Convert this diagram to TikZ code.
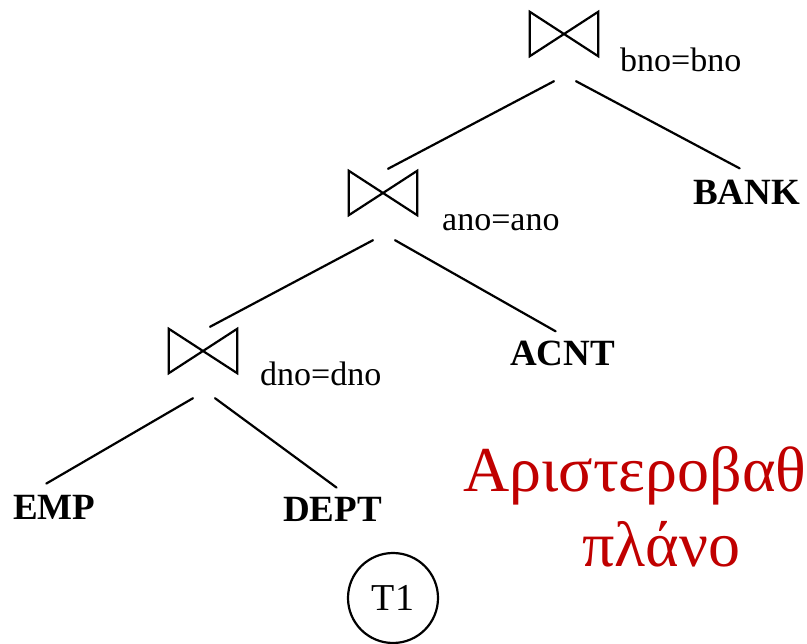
\documentclass[tikz,border=0pt]{standalone}
\usepackage{fontspec}
\setmainfont{Liberation Serif}
\usetikzlibrary{calc}
\definecolor{plannote}{RGB}{192,0,0}

\begin{document}
\begin{tikzpicture}[x=1pt,y=-1pt,
  joinop/.style={minimum width=68pt,minimum height=44pt,inner sep=0pt},
  bowtie/.style={line width=2.2pt,line join=miter},
  edge/.style={line width=2.2pt,line cap=round},
  cond/.style={anchor=base west,inner sep=0pt,font=\fontsize{34}{34}\selectfont},
  rel/.style={anchor=base west,inner sep=0pt,font=\fontsize{37}{37}\selectfont\bfseries},
  note/.style={anchor=base west,inner sep=0pt,text=plannote,font=\fontsize{64}{64}\selectfont}]
  \useasboundingbox (0,0) rectangle (807,644);

  % join operators
  \node[joinop] (j1) at (564,34) {};
  \node[joinop] (j2) at (383,193) {};
  \node[joinop] (j3) at (203,351) {};
  \foreach \j in {j1,j2,j3}{
    \draw[bowtie] (\j.north west) -- (\j.south east) -- (\j.north east)
                  -- (\j.south west) -- cycle;
    \coordinate (\j-l) at ($(\j.south)+(-10,25)$);
    \coordinate (\j-r) at ($(\j.south)+(12,25)$);
  }

  % join conditions
  \node[cond] (c1) at (620,72) {bno=bno};
  \node[cond] (c2) at (442,231) {ano=ano};
  \node[cond] (c3) at (260,386) {dno=dno};

  % base relations
  \node[rel] (bank) at (693,205) {BANK};
  \node[rel] (acnt) at (510,366) {ACNT};
  \node[rel] (emp)  at (13,520)  {EMP};
  \node[rel] (dept) at (283,522) {DEPT};

  % tree edges
  \draw[edge] (j1-l) -- ($(j2.north)+(5,-2)$);
  \draw[edge] (j1-r) -- ($(bank.north)+(-7,-12)$);
  \draw[edge] (j2-l) -- ($(j3.north)+(7,-2)$);
  \draw[edge] (j2-r) -- ($(acnt.north)+(-7,-10)$);
  \draw[edge] (j3-l) -- ($(emp.north)+(-8,-12)$);
  \draw[edge] (j3-r) -- ($(dept.north)+(4,-10)$);

  % tree label
  \node[draw,circle,line width=2.2pt,minimum size=90pt,inner sep=0pt,
        font=\fontsize{38}{38}\selectfont] (t1) at (393,598) {T1};

  % plan caption
  \node[note] (n1) at (463,492) {Αριστεροβαθ};
  \node[note] (n2) at (582,567) {πλάνο};
\end{tikzpicture}
\end{document}
